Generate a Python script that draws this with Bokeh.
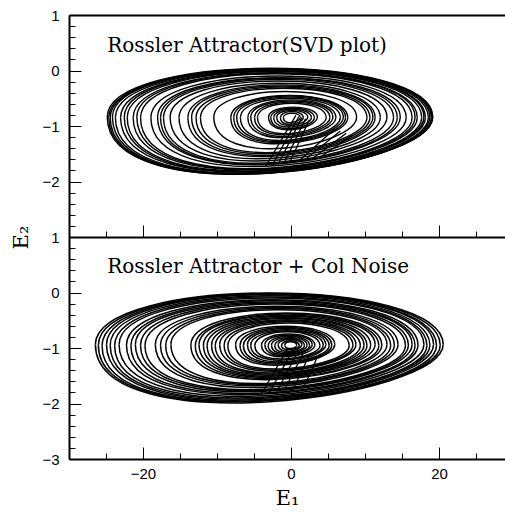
import numpy as np
from bokeh.plotting import figure
from bokeh.models import Range1d, LinearAxis, SingleIntervalTicker, FixedTicker, Span, Label
from bokeh.embed import file_html
from bokeh.resources import INLINE

# ---------------- data ----------------
# Top panel: Rossler attractor (SVD plot); one loop per entry
svd_left   = [-1.1, -1.5, -2.0, -2.4, -2.8, -3.1, -4.6, -5.0, -5.5, -5.9, -6.9, -7.4, -7.8, -8.2,
              -10.5, -12.3, -12.9, -13.5, -14.0, -15.2, -16.4, -17.3, -17.7, -18.1, -19.0,
              -20.4, -20.9, -21.4, -22.2, -22.6, -23.1, -23.8, -24.2, -24.5, -24.7, -24.9]
svd_right  = [1.2, 1.6, 2.2, 2.7, 3.1, 3.5, 4.7, 5.2, 5.6, 6.0, 6.6, 7.0, 7.3, 7.6,
              8.8, 10.2, 10.6, 11.0, 11.3, 12.0, 12.9, 13.8, 14.3, 14.7, 15.5,
              16.3, 16.7, 17.0, 17.6, 17.9, 18.1, 18.5, 18.7, 18.9, 19.0, 19.1]
svd_top    = [-0.76, -0.73, -0.71, -0.69, -0.67, -0.65, -0.58, -0.56, -0.54, -0.52, -0.49, -0.47, -0.45, -0.44,
              -0.37, -0.31, -0.29, -0.27, -0.25, -0.22, -0.18, -0.15, -0.13, -0.12, -0.09,
              -0.05, -0.04, -0.03, -0.01, 0.00, 0.01, 0.02, 0.03, 0.04, 0.04, 0.05]
svd_bottom = [-0.93, -0.96, -0.98, -1.01, -1.04, -1.06, -1.13, -1.15, -1.18, -1.20, -1.25, -1.27, -1.29, -1.31,
              -1.40, -1.47, -1.49, -1.52, -1.54, -1.58, -1.62, -1.66, -1.68, -1.69, -1.72,
              -1.76, -1.77, -1.78, -1.80, -1.81, -1.82, -1.84, -1.85, -1.85, -1.86, -1.86]
svd_mid    = [-0.84, -0.84, -0.83, -0.84, -0.84, -0.83, -0.84, -0.84, -0.83, -0.84, -0.84, -0.83, -0.84, -0.84,
              -0.83, -0.84, -0.84, -0.83, -0.84, -0.84, -0.83, -0.84, -0.84, -0.83, -0.84,
              -0.84, -0.83, -0.84, -0.84, -0.83, -0.84, -0.84, -0.83, -0.84, -0.84, -0.83]
# fold strands (start near the centre, end at the lower edge)
svd_fold_x0 = [0.6, 1.0, 1.4, 1.9, 2.4, 5.8, 6.6, 7.4, 8.2]
svd_fold_y0 = [-0.80, -0.82, -0.84, -0.86, -0.88, -1.05, -1.08, -1.12, -1.16]
svd_fold_x1 = [-3.5, -2.6, -1.8, -1.0, -0.2, 1.0, 1.8, 2.8, 3.8]
svd_fold_y1 = [-1.72, -1.70, -1.68, -1.66, -1.64, -1.62, -1.60, -1.58, -1.56]

# Bottom panel: Rossler attractor + coloured noise
noise_left   = [-0.9, -1.35, -1.8, -2.25, -2.7, -3.15, -3.6, -4.05,
                -4.95, -5.5, -5.95, -6.5, -6.95, -7.55,
                -8.6, -9.1, -9.7, -10.3, -10.8, -11.4, -11.9, -12.5, -13.0, -13.6,
                -16.3, -17.0, -17.7, -18.4,
                -19.8, -20.4, -21.1, -21.7, -22.3,
                -23.3, -23.9, -24.5, -25.0, -25.6, -26.1, -26.5]
noise_right  = [0.7, 1.05, 1.4, 1.75, 2.1, 2.45, 2.8, 3.15,
                3.85, 4.3, 4.65, 5.1, 5.45, 5.85,
                7.8, 8.3, 8.7, 9.3, 9.8, 10.2, 10.7, 11.3, 11.8, 12.2,
                12.9, 13.4, 13.9, 14.4,
                15.4, 15.8, 16.3, 16.7, 17.1,
                17.9, 18.3, 18.7, 19.2, 19.6, 20.1, 20.5]
noise_top    = [-0.88, -0.86, -0.84, -0.82, -0.80, -0.78, -0.76, -0.74,
                -0.70, -0.68, -0.66, -0.64, -0.62, -0.60,
                -0.54, -0.52, -0.50, -0.48, -0.46, -0.44, -0.42, -0.40, -0.38, -0.36,
                -0.30, -0.28, -0.26, -0.24,
                -0.20, -0.18, -0.16, -0.14, -0.12,
                -0.09, -0.07, -0.05, -0.03, -0.02, -0.01, 0.00]
noise_bottom = [-1.00, -1.02, -1.05, -1.07, -1.09, -1.11, -1.13, -1.15,
                -1.19, -1.21, -1.24, -1.26, -1.28, -1.30,
                -1.37, -1.39, -1.41, -1.44, -1.46, -1.48, -1.50, -1.52, -1.54, -1.56,
                -1.63, -1.65, -1.67, -1.70,
                -1.74, -1.76, -1.78, -1.81, -1.83,
                -1.86, -1.89, -1.91, -1.93, -1.95, -1.96, -1.98]
noise_mid    = [-0.94, -0.95, -0.93, -0.95, -0.94, -0.95, -0.93, -0.94,
                -0.95, -0.94, -0.93, -0.95, -0.94, -0.93,
                -0.95, -0.94, -0.93, -0.95, -0.94, -0.95, -0.94, -0.93, -0.95, -0.94,
                -0.93, -0.95, -0.94, -0.93,
                -0.95, -0.94, -0.93, -0.95, -0.94,
                -0.93, -0.95, -0.94, -0.93, -0.95, -0.94, -0.93]
noise_fold_x0 = [-0.5, 0.2, 0.9, 1.6, 2.4, 3.4]
noise_fold_y0 = [-1.00, -1.02, -1.05, -1.08, -1.12, -1.18]
noise_fold_x1 = [-4.0, -3.0, -2.0, -1.0, 0.2, 1.6]
noise_fold_y1 = [-1.80, -1.80, -1.78, -1.76, -1.74, -1.72]

y_tick_labels = {-3: "\u22123", -2: "\u22122", -1: "\u22121", 0: "0", 1: "1",
                 2: "\u22122", 3: "\u22121", 4: "0", 5: "1"}
x_tick_labels = {-20: "\u221220", 0: "0", 20: "20"}
sep_major = [-20, 0, 20]
sep_minor = [-25, -15, -10, -5, 5, 10, 15, 25]

title_top = "Rossler Attractor(SVD plot)"
title_bottom = "Rossler Attractor + Col Noise"

# ---------------- figure ----------------
p = figure(width=505, height=514, x_range=Range1d(-30, 28.92), y_range=Range1d(-3, 5),
           output_backend="svg", toolbar_location=None,
           x_axis_location=None, y_axis_location=None,
           min_border_left=69, min_border_right=0, min_border_top=15, min_border_bottom=55)
p.extra_y_ranges = {"top": Range1d(-7, 1)}
p.outline_line_color = None
p.grid.visible = False
p.background_fill_color = "white"
p.border_fill_color = "white"


def loops(L, R, T, B, M, rng, lw):
    L = np.array(L); R = np.array(R); T = np.array(T); B = np.array(B); M = np.array(M)
    k = 4.0 / 3.0
    # upper arcs
    p.bezier(x0=L, y0=M, x1=R, y1=M, cx0=L, cy0=M + k * (T - M), cx1=R, cy1=M + k * (T - M),
             line_color="black", line_width=lw, y_range_name=rng)
    # lower arcs, low point shifted to the left
    a, b = 0.7, 1.3
    t = np.linspace(0, 1, 401)
    g = (3 * (a * t * (1 - t) ** 2 + b * t ** 2 * (1 - t))).max()
    D = (M - B) / g
    p.bezier(x0=R, y0=M, x1=L, y1=M, cx0=R, cy0=M - a * D, cx1=L, cy1=M - b * D,
             line_color="black", line_width=lw, y_range_name=rng)


loops(svd_left, svd_right, svd_top, svd_bottom, svd_mid, "top", 1.4)
p.segment(x0=svd_fold_x0, y0=svd_fold_y0, x1=svd_fold_x1, y1=svd_fold_y1,
          line_color="black", line_width=1.3, y_range_name="top")

loops(noise_left, noise_right, noise_top, noise_bottom, noise_mid, "default", 1.5)
p.segment(x0=noise_fold_x0, y0=noise_fold_y0, x1=noise_fold_x1, y1=noise_fold_y1,
          line_color="black", line_width=1.3)

# separator between panels and its inward ticks
p.add_layout(Span(location=1, dimension="width", line_color="black", line_width=2))
p.ray(x=sep_major, y=[1] * len(sep_major), length=12, length_units="screen", angle=np.pi / 2,
      line_color="black", line_width=1)
p.ray(x=sep_minor, y=[1] * len(sep_minor), length=6, length_units="screen", angle=np.pi / 2,
      line_color="black", line_width=1)

# axes
xa = LinearAxis(ticker=SingleIntervalTicker(interval=20, num_minor_ticks=4),
                axis_label="E\u2081")
xa.major_label_overrides = x_tick_labels
ya = LinearAxis(ticker=SingleIntervalTicker(interval=1, num_minor_ticks=5),
                axis_label="E\u2082")
ya.major_label_overrides = y_tick_labels
for ax in (xa, ya):
    ax.axis_line_width = 2
    ax.axis_line_color = "black"
    ax.major_tick_in = 12
    ax.major_tick_out = 0
    ax.minor_tick_in = 6
    ax.minor_tick_out = 0
    ax.major_tick_line_color = "black"
    ax.minor_tick_line_color = "black"
    ax.major_label_text_font = "Liberation Sans"
    ax.major_label_text_font_size = "15px"
    ax.major_label_text_color = "black"
    ax.axis_label_text_font = "DejaVu Serif"
    ax.axis_label_text_font_style = "normal"
    ax.axis_label_text_font_size = "21px"
    ax.axis_label_text_color = "black"
xa.major_label_standoff = 9
xa.axis_label_standoff = 4
ya.major_label_standoff = 10
ya.axis_label_standoff = 6
p.add_layout(xa, "below")
p.add_layout(ya, "left")

ta = LinearAxis(ticker=FixedTicker(ticks=[]), major_label_text_font_size="0px",
                major_tick_in=0, major_tick_out=0, minor_tick_in=0, minor_tick_out=0,
                major_label_standoff=0, axis_line_width=2, axis_line_color="black")
p.add_layout(ta, "above")

# panel titles
p.add_layout(Label(x=-24.9, y=0.47, y_range_name="top", text=title_top,
                   text_font="DejaVu Serif", text_font_size="20px", text_color="black",
                   text_baseline="alphabetic"))
p.add_layout(Label(x=-24.9, y=0.49, text=title_bottom,
                   text_font="DejaVu Serif", text_font_size="20px", text_color="black",
                   text_baseline="alphabetic"))

open("out.html", "w").write(file_html(p, INLINE))
